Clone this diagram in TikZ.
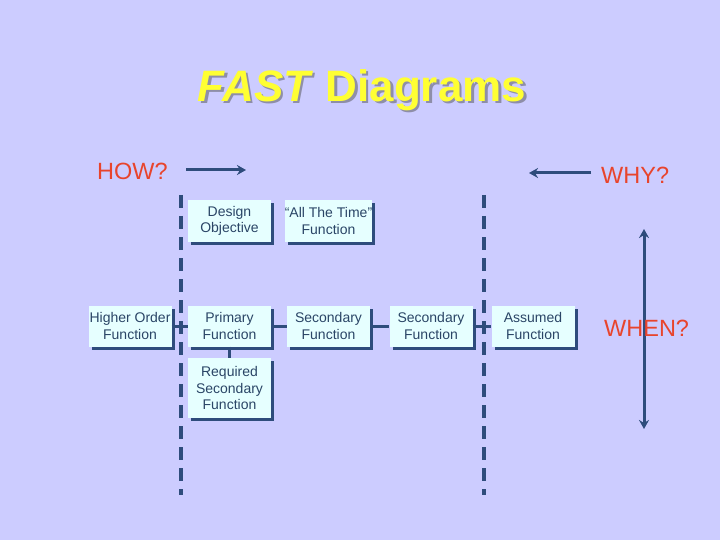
\documentclass[tikz,border=0pt]{standalone}
\usepackage{fontspec}
\setmainfont{Liberation Sans}
\usetikzlibrary{shadows,arrows.meta}
\definecolor{bg}{HTML}{CCCCFF}
\definecolor{dblue}{HTML}{2E4C7C}
\definecolor{boxfill}{HTML}{E6FFFF}
\definecolor{boxtext}{HTML}{2A4566}
\definecolor{qred}{HTML}{E8442C}
\definecolor{ttl}{HTML}{FFFF33}
\definecolor{ttlsh}{HTML}{8E8EA8}
\newcommand{\titletext}{\textit{FAST} Diagrams}
\tikzset{
  fbox/.style={fill=boxfill, text=boxtext, align=center, inner sep=0pt,
    minimum width=83pt, minimum height=41pt, font=\fontsize{14}{16.5}\selectfont,
    general shadow={fill=dblue, shadow xshift=3pt, shadow yshift=-3pt}},
  conn/.style={draw=dblue, line width=3pt},
  divider/.style={draw=dblue, line width=4.5pt, dash pattern=on 13pt off 8pt},
  arr/.style={draw=dblue, line width=3pt, -{Stealth[length=9pt,width=10pt]}},
  qtext/.style={text=qred, font=\fontsize{23.5}{25}\selectfont, inner sep=0pt}
}
\begin{document}
\begin{tikzpicture}[x=1pt,y=-1pt]
\fill[bg] (0,0) rectangle (720,540);
\useasboundingbox (0,0) rectangle (720,540);
% title with shadow in one node
\node[font=\fontsize{44}{48}\selectfont\bfseries, inner sep=0pt] (title) at (362,91)
  {\rlap{\kern2.5pt\raisebox{-2.5pt}{\color{ttlsh}\titletext}}\color{ttl}\titletext};
% dividers
\coordinate (d1t) at (181,195); \coordinate (d1b) at (181,495);
\coordinate (d2t) at (484,195); \coordinate (d2b) at (484,495);
\draw[divider] (d1t) -- (d1b);
\draw[divider] (d2t) -- (d2b);
% HOW / WHY
\node[qtext, anchor=west] (how) at (97,171) {HOW?};
\coordinate (howa) at (186,170); \coordinate (howb) at (246,170);
\draw[arr] (howa) -- (howb);
\node[qtext, anchor=west] (why) at (601,175) {WHY?};
\coordinate (whya) at (591,173); \coordinate (whyb) at (529,173);
\draw[arr] (whya) -- (whyb);
% WHEN
\coordinate (wt) at (644,229); \coordinate (wb) at (644,429);
\draw[draw=dblue, line width=3pt, {Stealth[length=9pt,width=10pt]}-{Stealth[length=9pt,width=10pt]}] (wt) -- (wb);
\node[qtext, anchor=west] (when) at (604,328) {WHEN?};
% boxes
\node[fbox] (design) at (229.5,221) {Design\\Objective};
\node[fbox] (att) at (328.5,221) {“All The Time”\\Function};
\node[fbox] (higher) at (130,326) {Higher Order\\Function};
\node[fbox] (primary) at (229.5,326) {Primary\\Function};
\node[fbox] (sec1) at (328.5,326) {Secondary\\Function};
\node[fbox] (sec2) at (431,326) {Secondary\\Function};
\node[fbox] (assumed) at (533,326) {Assumed\\Function};
\node[fbox, minimum height=60pt] (req) at (229.5,388) {Required\\Secondary\\Function};
% connectors
\draw[conn] (higher.east) -- (primary.west);
\draw[conn] (primary.east) -- (sec1.west);
\draw[conn] (sec1.east) -- (sec2.west);
\draw[conn] (sec2.east) -- (assumed.west);
\draw[conn] (primary.south) -- (req.north);
\end{tikzpicture}
\end{document}
